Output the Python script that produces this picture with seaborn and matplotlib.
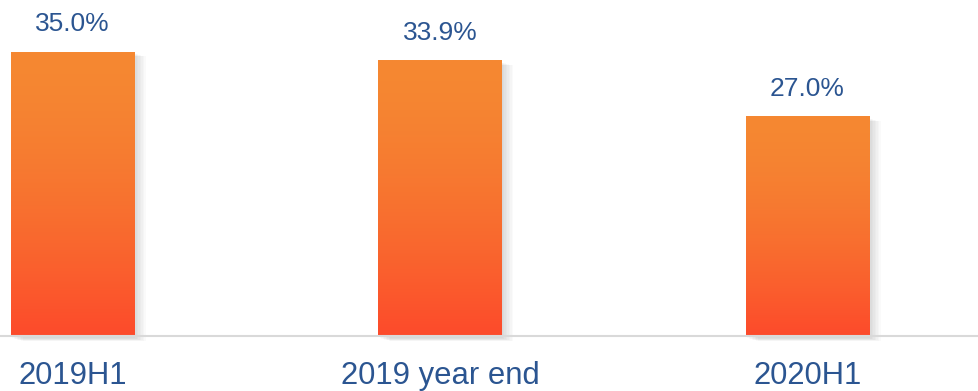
import numpy as np
import pandas as pd
import matplotlib
matplotlib.use("Agg")
import matplotlib.pyplot as plt
from matplotlib.patches import Rectangle
import seaborn as sns

categories = ["2019H1", "2019 year end", "2020H1"]
values = [35.0, 33.9, 27.0]
value_labels = ["35.0%", "33.9%", "27.0%"]

sns.set_theme(style="white")
plt.rcParams['font.family'] = ['Liberation Sans', 'DejaVu Sans']

df = pd.DataFrame({"cat": categories, "val": values})

fig = plt.figure(figsize=(9.79, 3.91), dpi=100)
ax = fig.add_axes([0, 55/391, 1, 336/391])

sns.barplot(data=df, x="cat", y="val", ax=ax, width=0.335, color="#F5883A",
            saturation=1, edgecolor="none")

ax.set_xlim(-0.197, 2.467)
ax.set_ylim(0, 336/8.114)

top_c = np.array([245, 136, 50]) / 255
bot_c = np.array([253, 74, 43]) / 255
t = np.linspace(0, 1, 256) ** 1.6
grad = t[:, None]
img = top_c[None, None, :] * (1 - grad[..., None]) + bot_c[None, None, :] * grad[..., None]

for p, lab in zip(ax.patches, value_labels):
    x0 = p.get_x(); w = p.get_width(); h = p.get_height()
    # soft shadow
    for i in range(8):
        off = 0.004 * (i + 1)
        ax.add_patch(Rectangle((x0 + off, -0.3 - 0.05 * i), w, h + 0.1, facecolor="black",
                               alpha=0.018, edgecolor="none", zorder=1, clip_on=False))
    p.set_facecolor("none")
    ax.imshow(img, extent=[x0, x0 + w, 0, h], aspect="auto", zorder=3, origin="upper")
    ax.text(x0 + w / 2, h + 2.0, lab, ha="center", va="bottom", fontsize=19,
            color="#2B5591", zorder=4)

ax.set_xlim(-0.197, 2.467)
ax.set_ylim(0, 336/8.114)
ax.set_xlabel("")
ax.set_ylabel("")
ax.set_yticks([])
ax.tick_params(axis="x", length=0, pad=18, labelsize=22.3, labelcolor="#2B5591")
for s in ["top", "left", "right"]:
    ax.spines[s].set_visible(False)
ax.spines["bottom"].set_color("#D9D9D9")
ax.spines["bottom"].set_linewidth(1.5)
ax.spines["bottom"].set_zorder(5)

fig.savefig("out.png", dpi=100)
